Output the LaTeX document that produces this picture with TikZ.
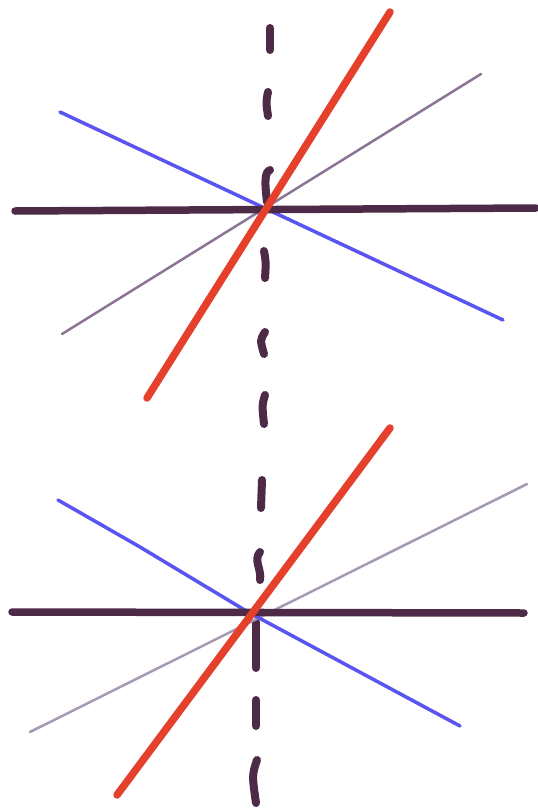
\documentclass[tikz,border=0pt]{standalone}
\definecolor{axis}{HTML}{4D2B47}
\definecolor{redl}{HTML}{E5402C}
\definecolor{bluel}{HTML}{5A55F0}
\definecolor{greyl}{HTML}{8C7594}
\definecolor{greyl2}{HTML}{A898B0}
\begin{document}
\begin{tikzpicture}[x=1pt,y=-1pt,line cap=round,line join=round,
  axisline/.style={draw=axis,line width=7.5pt},
  redline/.style={draw=redl,line width=7.5pt},
  blueline/.style={draw=bluel,line width=3.5pt},
  greyline/.style={draw=greyl,line width=2.5pt},
  dashseg/.style={draw=axis,line width=8pt}]
\useasboundingbox[fill=white] (0,0) rectangle (538,809);
% dashed vertical
\draw[dashseg] (270,28) -- (270,50);
\draw[dashseg] (268,92) .. controls (266,102) .. (268,116);
\draw[dashseg] (270,170) .. controls (264,172) and (265,185) .. (267,202);
\draw[dashseg] (264,251) .. controls (266,262) .. (265,278);
\draw[dashseg] (265,332) .. controls (260,340) .. (264,354);
\draw[dashseg] (265,395) .. controls (262,405) .. (264,424);
\draw[dashseg] (262,480) -- (261,508);
\draw[dashseg] (260,552) .. controls (253,560) and (262,570) .. (260,580);
\draw[dashseg] (256,622) -- (256,668);
\draw[dashseg] (256,700) -- (256,726);
\draw[dashseg] (257,760) .. controls (252,775) .. (256,803);
% top group
\draw[greyline] (62,334) -- (481,74);
\draw[blueline] (60,112) -- (503,320);
\draw[axisline] (15,211) -- (536,208);
\draw[redline] (147,398) -- (390,12);
% bottom group
\draw[greyline,draw=greyl2] (30,732) -- (527,484);
\draw[blueline] (58,500) -- (140,547) -- (248,612) -- (460,726);
\draw[axisline] (12,612) -- (524,613);
\draw[redline] (117,795) -- (390,428);
\end{tikzpicture}
\end{document}
